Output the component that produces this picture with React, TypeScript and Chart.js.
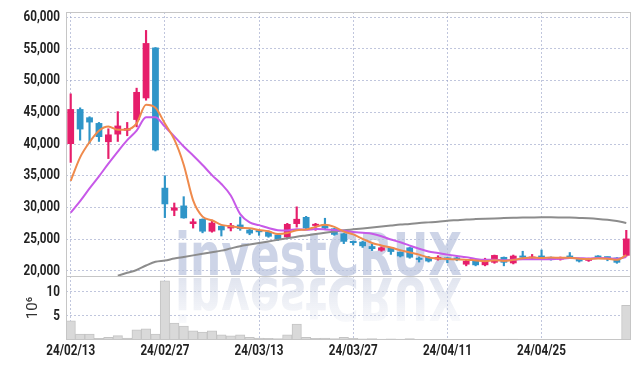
import React, { useEffect, useRef } from 'react';
import { Chart, registerables } from 'chart.js';

Chart.register(...registerables);

const dates = [
  '24/02/13', '24/02/14', '24/02/15', '24/02/16', '24/02/19', '24/02/20', '24/02/21', '24/02/22', '24/02/23', '24/02/26',
  '24/02/27', '24/02/28', '24/02/29', '24/03/04', '24/03/05', '24/03/06', '24/03/07', '24/03/08', '24/03/11', '24/03/12',
  '24/03/13', '24/03/14', '24/03/15', '24/03/18', '24/03/19', '24/03/20', '24/03/21', '24/03/22', '24/03/25', '24/03/26',
  '24/03/27', '24/03/28', '24/03/29', '24/04/01', '24/04/02', '24/04/03', '24/04/04', '24/04/05', '24/04/08', '24/04/09',
  '24/04/11', '24/04/12', '24/04/15', '24/04/16', '24/04/17', '24/04/18', '24/04/19', '24/04/22', '24/04/23', '24/04/24',
  '24/04/25', '24/04/26', '24/04/29', '24/04/30', '24/05/02', '24/05/03', '24/05/07', '24/05/08', '24/05/09', '24/05/10',
];

const opens = [
  40000, 45500, 44200, 43300, 40300, 41500, 42100, 43800, 47200, 55200,
  33100, 29500, 30300, 27400, 28200, 26200, 27100, 26700, 27300, 26500,
  26300, 26200, 25700, 25300, 27400, 28500, 27100, 27300, 26700, 25900,
  24600, 24600, 23900, 23200, 23700, 23000, 23700, 21950, 22200, 21800,
  22100, 21900, 21000, 21600, 20900, 21300, 22200, 21200, 22200, 21950,
  22200, 22200, 21800, 22200, 22000, 21600, 22300, 22100, 22100, 22400,
];
const highs = [
  47900, 45700, 44300, 43400, 42400, 45100, 43400, 48800, 57900, 55200,
  35000, 30700, 31700, 28200, 28200, 28000, 27100, 27500, 28500, 26600,
  26400, 26300, 25800, 27500, 30100, 28600, 27500, 28300, 26700, 25900,
  24700, 24700, 24200, 23800, 23700, 23000, 23700, 22200, 22300, 22400,
  22100, 22200, 21700, 21600, 22000, 22500, 22200, 22500, 23100, 22600,
  23300, 22200, 22200, 22900, 22000, 22000, 22400, 22200, 22100, 26400,
];
const lows = [
  37100, 40600, 40100, 40400, 37700, 40400, 41300, 42700, 46900, 38900,
  28400, 28700, 28300, 26750, 26000, 26100, 25500, 26300, 26400, 25700,
  25600, 25300, 24800, 25100, 26900, 26600, 26400, 26600, 25600, 24300,
  24100, 23700, 23200, 23100, 22600, 22200, 22000, 21400, 21400, 21700,
  21300, 21600, 20800, 20800, 20800, 21200, 20800, 21100, 22000, 21900,
  22000, 21700, 21700, 22000, 21400, 21500, 22000, 21600, 21200, 22300,
];
const closes = [
  45500, 42300, 43400, 41100, 41500, 42900, 42500, 48200, 55900, 39000,
  30500, 30000, 28300, 27800, 26200, 27600, 26400, 27200, 26600, 25900,
  26100, 25400, 25000, 27400, 28200, 26700, 27400, 26700, 25700, 24600,
  24400, 23900, 23450, 23700, 23000, 22300, 22100, 21750, 21500, 22200,
  21800, 21800, 21600, 20900, 21600, 22500, 21300, 22400, 22100, 22200,
  22100, 21800, 22100, 22100, 21500, 21900, 22100, 22000, 21300, 25100,
];

const ma5 = [
  34200, 37900, 40300, 42100, 42760, 42240, 42280, 43240, 46200, 45700,
  43220, 40720, 36740, 31120, 28560, 27980, 27260, 27040, 26800, 26740,
  26440, 26240, 25800, 25960, 26420, 26540, 26940, 27280, 26940, 26220,
  25760, 25060, 24410, 24010, 23690, 23270, 22910, 22570, 22130, 21970,
  21870, 21810, 21780, 21660, 21540, 21680, 21580, 21740, 21980, 22100,
  22020, 22120, 22060, 22060, 21920, 21880, 21940, 21920, 21760, 22480,
];
const ma10 = [
  29200, 31000, 33000, 34900, 36900, 38800, 40600, 42100, 44200, 44230,
  42730, 41200, 39600, 38200, 36700, 35100, 33700, 31890, 28960, 27650,
  27210, 26750, 26420, 26380, 26580, 26490, 26590, 26540, 26450, 26320,
  26150, 26000, 25845, 25475, 24955, 24515, 23985, 23490, 23070, 22830,
  22570, 22360, 22175, 21895, 21755, 21775, 21695, 21760, 21820, 21820,
  21850, 21850, 21900, 22020, 22010, 21950, 22030, 21990, 21910, 22200,
];
const maLong = [
  null, null, null, null, null, 19250, 19700, 20150, 20850, 21450,
  21650, 21950, 22200, 22450, 22700, 22950, 23200, 23550, 23900, 24150,
  24400, 24650, 24900, 25150, 25400, 25600, 25800, 26000, 26200, 26400,
  26550, 26700, 26850, 27000, 27150, 27300, 27400, 27550, 27650, 27750,
  27900, 28000, 28100, 28170, 28230, 28280, 28320, 28360, 28400, 28430,
  28450, 28450, 28430, 28400, 28350, 28300, 28200, 28050, 27850, 27550,
];

// volume in millions of shares
const volumes = [
  4.0, 1.25, 1.25, 0.35, 0.55, 0.9, 0.4, 2.1, 2.3, 1.25,
  12.3, 3.5, 2.9, 1.9, 1.65, 1.9, 1.05, 0.85, 1.05, 0.55,
  0.42, 0.35, 0.3, 1.05, 3.3, 0.55, 0.35, 0.42, 0.3, 0.55,
  0.35, 0.25, 0.3, 0.2, 0.25, 0.2, 0.3, 0.15, 0.12, 0.1,
  0.1, 0.08, 0.1, 0.12, 0.18, 0.2, 0.18, 0.2, 0.15, 0.1,
  0.1, 0.08, 0.06, 0.08, 0.06, 0.05, 0.06, 0.05, 0.08, 7.2,
];

const priceTicks = [20000, 25000, 30000, 35000, 40000, 45000, 50000, 55000, 60000];
const volumeTicks = [5, 10];
const dateTicks = ['24/02/13', '24/02/27', '24/03/13', '24/03/27', '24/04/11', '24/04/25'];
const priceRange = [19200, 60800];
const volumeRange = [0, 13.3];
const volumeUnit = '10⁶';
const watermarkText = 'investCRUX';

const UP = '#e61e6b';
const DOWN = '#2f95c8';
const GRID = 'rgba(150,160,198,0.6)';
const LABEL_FONT = 'bold 15px Roboto, "DejaVu Sans", sans-serif';
const LABEL_SX = 0.78;

const watermarkPlugin = {
  id: 'watermark',
  beforeDatasetsDraw(chart: any) {
    const { ctx, chartArea: a } = chart;
    const base = chart.scales.y.bottom;
    const w = a.right - a.left;
    const x0 = a.left + w * 0.193;
    const targetW = w * 0.508;
    ctx.save();
    ctx.font = 'bold 58px "DejaVu Sans"';
    const m = ctx.measureText(watermarkText);
    const sx = targetW / m.width;
    ctx.beginPath();
    ctx.rect(a.left, a.top, w, base - a.top);
    ctx.clip();
    ctx.translate(x0, base - 1);
    ctx.scale(sx, 1);
    ctx.textBaseline = 'alphabetic';
    ctx.fillStyle = 'rgba(186,196,222,0.72)';
    ctx.fillText(watermarkText, 0, 0);
    ctx.restore();

    ctx.save();
    ctx.beginPath();
    ctx.rect(a.left, base + 1, w, a.bottom - base - 1);
    ctx.clip();
    ctx.translate(x0, base + 2);
    ctx.scale(sx, -1);
    ctx.font = 'bold 58px "DejaVu Sans"';
    ctx.textBaseline = 'alphabetic';
    const g = ctx.createLinearGradient(0, 0, 0, -44);
    g.addColorStop(0, 'rgba(200,207,226,0.55)');
    g.addColorStop(1, 'rgba(200,207,226,0.12)');
    ctx.fillStyle = g;
    ctx.fillText(watermarkText, 0, 0);
    ctx.restore();
  },
};

const framePlugin = {
  id: 'frame',
  afterDatasetsDraw(chart: any) {
    const { ctx, chartArea: a } = chart;
    const sep = Math.round(chart.scales.y.bottom) + 0.5;
    ctx.save();
    ctx.strokeStyle = '#c6c6c6';
    ctx.lineWidth = 1;
    const l = Math.round(a.left) + 0.5;
    const t = Math.round(a.top) + 0.5;
    const r = Math.round(a.right) - 0.5;
    const b = Math.round(a.bottom) - 0.5;
    ctx.strokeRect(l, t, r - l, b - t);
    ctx.beginPath();
    ctx.moveTo(l, sep);
    ctx.lineTo(r, sep);
    ctx.stroke();
    ctx.restore();
  },
};

// tick labels drawn through the scales, in a narrowed face
const tickLabelPlugin = {
  id: 'tickLabels',
  afterDraw(chart: any) {
    const { ctx, chartArea: a } = chart;
    const put = (text: string, x: number, y: number, align: string) => {
      ctx.save();
      ctx.translate(x, y);
      ctx.scale(LABEL_SX, 1);
      ctx.textAlign = align;
      ctx.textBaseline = 'middle';
      ctx.fillText(text, 0, 0);
      ctx.restore();
    };
    ctx.save();
    ctx.font = LABEL_FONT;
    ctx.fillStyle = '#222';
    const yS = chart.scales.y;
    priceTicks.forEach((v) => put(v.toLocaleString('en-US'), yS.right - 6, yS.getPixelForValue(v), 'right'));
    const vS = chart.scales.yVol;
    volumeTicks.forEach((v) => put(String(v), vS.right - 6, vS.getPixelForValue(v), 'right'));
    const xS = chart.scales.x;
    dateTicks.forEach((d) => put(d, xS.getPixelForValue(dates.indexOf(d)), a.bottom + 11, 'center'));
    ctx.restore();
  },
};

export default function App() {
  const ref = useRef<HTMLCanvasElement>(null);

  useEffect(() => {
    const canvas = ref.current;
    if (!canvas) return;
    const candleColors = closes.map((c, i) => (c >= opens[i] ? UP : DOWN));
    const bodies = opens.map((o, i) => [Math.min(o, closes[i]), Math.max(o, closes[i])]);
    const wicks = lows.map((l, i) => [l, highs[i]]);

    const chart = new Chart(canvas, {
      type: 'bar',
      data: {
        labels: dates,
        datasets: [
          { type: 'line', label: 'MA5', data: ma5, yAxisID: 'y', borderColor: '#ef8a4c', borderWidth: 2, pointRadius: 0, cubicInterpolationMode: 'monotone' } as any,
          { type: 'line', label: 'MA10', data: ma10, yAxisID: 'y', borderColor: '#c759e8', borderWidth: 2, pointRadius: 0, cubicInterpolationMode: 'monotone' } as any,
          { type: 'line', label: 'MA60', data: maLong, yAxisID: 'y', borderColor: '#8c8c8c', borderWidth: 2, pointRadius: 0, cubicInterpolationMode: 'monotone' } as any,
          { type: 'bar', label: 'body', data: bodies, yAxisID: 'y', backgroundColor: candleColors, grouped: false, categoryPercentage: 1, barPercentage: 0.72, minBarLength: 2 } as any,
          { type: 'bar', label: 'wick', data: wicks, yAxisID: 'y', backgroundColor: candleColors, grouped: false, barThickness: 1.5 } as any,
          { type: 'bar', label: 'volume', data: volumes, yAxisID: 'yVol', backgroundColor: '#d9d9d9', borderColor: '#c4c4c4', borderWidth: 1, grouped: false, categoryPercentage: 1, barPercentage: 1 } as any,
        ],
      },
      options: {
        responsive: false,
        animation: false,
        layout: { padding: { top: 12, right: 8, left: 0, bottom: 0 } },
        plugins: { legend: { display: false }, tooltip: { enabled: false } },
        scales: {
          x: {
            type: 'category',
            offset: true,
            afterFit: (s: any) => { s.height = 29; },
            grid: {
              offset: false,
              drawTicks: false,
              color: (c: any) => (dateTicks.includes(dates[c.index]) ? GRID : 'rgba(0,0,0,0)'),
            },
            border: { display: false, dash: [2, 2] },
            ticks: { display: false, autoSkip: false },
          },
          yVol: {
            type: 'linear',
            position: 'left',
            stack: 'panes',
            stackWeight: 1,
            min: volumeRange[0],
            max: volumeRange[1],
            afterBuildTicks: (s: any) => { s.ticks = volumeTicks.map((v) => ({ value: v })); },
            afterFit: (s: any) => { s.width = 66; },
            grid: { color: GRID, drawTicks: false },
            border: { display: false, dash: [2, 2] },
            ticks: { display: false, autoSkip: false },
            title: { display: true, text: volumeUnit, color: '#333', font: { family: 'Roboto', size: 15 }, padding: { top: 24, bottom: 0 } },
          },
          y: {
            type: 'linear',
            position: 'left',
            stack: 'panes',
            stackWeight: 4.125,
            min: priceRange[0],
            max: priceRange[1],
            afterBuildTicks: (s: any) => { s.ticks = priceTicks.map((v) => ({ value: v })); },
            afterFit: (s: any) => { s.width = 66; },
            grid: { color: GRID, drawTicks: false },
            border: { display: false, dash: [2, 2] },
            ticks: { display: false, autoSkip: false },
          },
        },
      } as any,
      plugins: [watermarkPlugin, framePlugin, tickLabelPlugin],
    });
    return () => chart.destroy();
  }, []);

  return (
    <div style={{ position: 'fixed', left: 0, top: 0, width: 639, height: 369, background: '#fff' }}>
      <canvas ref={ref} width={639} height={369} style={{ display: 'block', width: 639, height: 369 }} />
    </div>
  );
}
